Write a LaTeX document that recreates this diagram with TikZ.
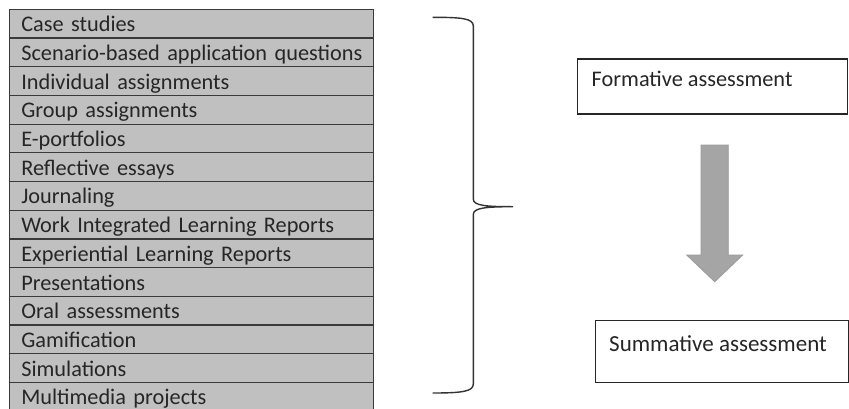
\documentclass[tikz,border=0pt]{standalone}
\usepackage{fontspec}
\setmainfont{Carlito}
\definecolor{rowfill}{HTML}{C0C0C0}
\definecolor{rowline}{HTML}{3A3A3A}
\definecolor{arrowfill}{HTML}{A5A5A5}
\definecolor{arrowline}{HTML}{9A9A9A}
\begin{document}
\begin{tikzpicture}[x=1pt,y=-1pt,
  listrow/.style={draw=rowline, line width=1.2pt, fill=rowfill, anchor=north west,
    minimum width=364pt, text width=340pt, align=left, inner xsep=12pt, inner ysep=2pt,
    text height=20.4pt, text depth=4.3pt, font=\fontsize{22.3}{24}\selectfont, text=black!85},
  stagebox/.style={draw=black!85, line width=1.2pt, anchor=north west},
  stagetext/.style={anchor=base west, font=\fontsize{22.3}{24}\selectfont, text=black!85, inner sep=0pt},
  bracestyle/.style={draw=black!80, line width=1.4pt}]
\useasboundingbox (0,0) rectangle (849,408);
\foreach \t [count=\i from 0] in {Case studies,Scenario-based application questions,Individual assignments,Group assignments,E-portfolios,Reflective essays,Journaling,Work Integrated Learning Reports,Experiential Learning Reports,Presentations,Oral assessments,Gamification,Simulations,Multimedia projects}
  \node[listrow] (r\i) at (8.7, 8.7+28.7*\i) {\rlap{\t}};
% brace
\coordinate (btop) at (432.7,17.3);
\coordinate (bbot) at (432.7,393);
\coordinate (btip) at (513,206.7);
\draw[bracestyle] (btop) .. controls (462,17.3) and (473.3,18.5) .. (473.3,26)
  -- (473.3,199) .. controls (473.3,205.5) and (485,206.7) .. (btip)
  .. controls (485,206.7) and (473.3,208) .. (473.3,214.5)
  -- (473.3,384) .. controls (473.3,391.5) and (462,393) .. (bbot);
% boxes
\node[stagebox, minimum width=270.5pt, minimum height=55pt] (form) at (576.7,58.3) {};
\node[stagetext] (formt) at (591.5,86) {Formative assessment};
\node[stagebox, minimum width=252.5pt, minimum height=61.7pt] (summ) at (595,320) {};
\node[stagetext, font=\fontsize{23}{25}\selectfont] (summt) at (609,351.7) {Summative assessment};
% arrow
\draw[fill=arrowfill, draw=arrowline, line width=0.8pt]
  (701,145) -- (728.3,145) -- (728.3,255) -- (742.7,255) -- (714.7,281.7)
  -- (686.7,255) -- (701,255) -- cycle;
\end{tikzpicture}
\end{document}
